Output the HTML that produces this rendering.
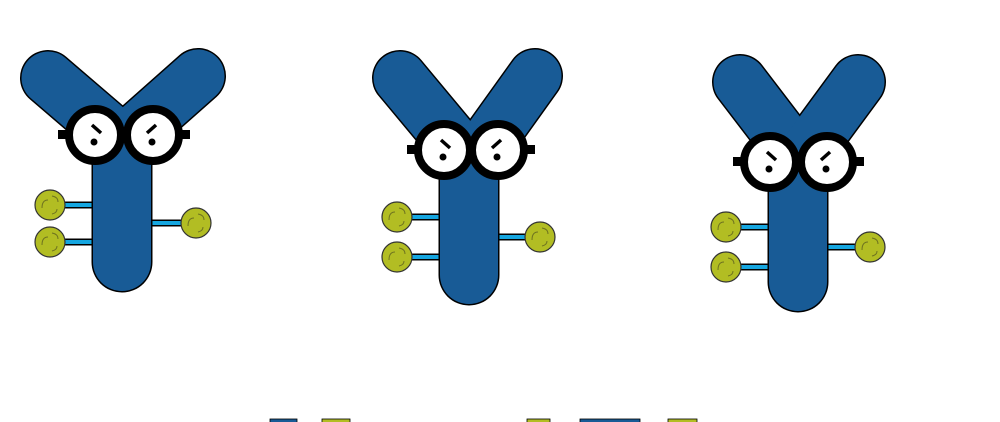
<!DOCTYPE html>
<html><head><meta charset="utf-8"><style>
html,body{margin:0;padding:0;background:#fff;width:1000px;height:422px;overflow:hidden;font-family:"Liberation Sans",sans-serif}
</style></head><body>
<svg id="scene" width="1000" height="422" viewBox="0 0 1000 422" xmlns="http://www.w3.org/2000/svg">
<rect x="0" y="0" width="1000" height="422" fill="#fff"/>
</svg>
<script>
const NS='http://www.w3.org/2000/svg';
const svg=document.getElementById('scene');
const BLUE='#185b96', LBLUE='#15a6e0', GREEN='#b2bd23';
const chars=[
 {name:'antibody-1',aL:[48,78,118,138],aR:[198,76,128,138],sx:122,sy:165,sb:262,lens:[[95,135],[153,135]],bl:[[50,205],[50,242]],br:[[196,223]]},
 {name:'antibody-2',aL:[400,78,460,150],aR:[535,76,482,150],sx:469,sy:180,sb:275,lens:[[444,150],[498,150]],bl:[[397,217],[397,257]],br:[[540,237]]},
 {name:'antibody-3',aL:[740,82,792,150],aR:[858,82,808,150],sx:798,sy:190,sb:282,lens:[[770,162],[827,162]],bl:[[726,227],[726,267]],br:[[870,247]]}
];
function el(tag,attrs,parent){const e=document.createElementNS(NS,tag);for(const k in attrs)e.setAttribute(k,attrs[k]);parent.appendChild(e);return e;}
chars.forEach(c=>{
 const g=el('g',{},svg);
 
 
 const segs=[c.aL,c.aR,[c.sx,c.sy,c.sx,c.sb]];
 const widths=[53,53,58];
 c.bl.forEach(b=>{el('line',{x1:b[0],y1:b[1],x2:c.sx-28,y2:b[1],stroke:'#000',"stroke-width":7},g);el('line',{x1:b[0],y1:b[1],x2:c.sx-26,y2:b[1],stroke:LBLUE,"stroke-width":4},g);});
 c.br.forEach(b=>{el('line',{x1:c.sx+26,y1:b[1],x2:b[0],y2:b[1],stroke:'#000',"stroke-width":7},g);el('line',{x1:c.sx+26,y1:b[1],x2:b[0],y2:b[1],stroke:LBLUE,"stroke-width":4},g);});
 segs.forEach((s,i)=>el('line',{x1:s[0],y1:s[1],x2:s[2],y2:s[3],stroke:'#000',"stroke-width":widths[i]+3,"stroke-linecap":"round"},g));
 segs.forEach((s,i)=>el('line',{x1:s[0],y1:s[1],x2:s[2],y2:s[3],stroke:BLUE,"stroke-width":widths[i],"stroke-linecap":"round"},g));
 c.bl.concat(c.br).forEach(b=>{
  const ball=el('circle',{cx:b[0],cy:b[1],r:15,fill:GREEN,stroke:'#333',"stroke-width":1.2},g);
  
  
  el('path',{d:`M${b[0]-8} ${b[1]+3} q0 -8 6 -8 M${b[0]+2} ${b[1]-9} q6 1 6 6 M${b[0]+2} ${b[1]+9} q5 -1 5 -5`,fill:'none',stroke:'#6f7420',"stroke-width":1},g);
 });
 const L=c.lens[0],R=c.lens[1];
 el('rect',{x:L[0]-37,y:L[1]-5,width:10,height:9,fill:'#000'},g);
 el('rect',{x:R[0]+27,y:R[1]-5,width:10,height:9,fill:'#000'},g);
 c.lens.forEach((p,i)=>{
  const lens=el('circle',{cx:p[0],cy:p[1],r:26,fill:'#fff',stroke:'#000',"stroke-width":8},g);
  
  
  const d=i===0?1:-1;
  el('line',{x1:p[0]-3*d,y1:p[1]-10,x2:p[0]+6*d,y2:p[1]-2,stroke:'#000',"stroke-width":3.5},g);
  el('circle',{cx:p[0]-1,cy:p[1]+7,r:3.5,fill:'#000'},g);
 });
});
const bits=[[270,297,BLUE],[322,350,GREEN],[527,550,GREEN],[580,640,BLUE],[668,697,GREEN]];
bits.forEach(b=>{
 const r=el('rect',{x:b[0],y:419,width:b[1]-b[0],height:4,fill:b[2],stroke:'#000',"stroke-width":0.8},svg);
 
 
});
</script>
</body></html>
